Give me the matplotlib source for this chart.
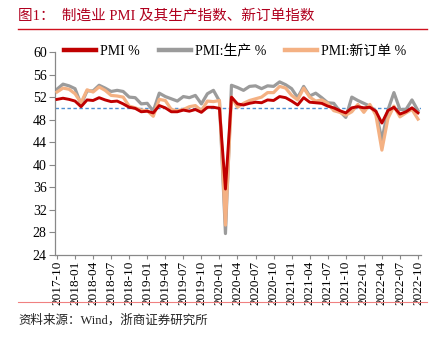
import matplotlib
matplotlib.use('Agg')
import matplotlib.pyplot as plt
from matplotlib.lines import Line2D

plt.rcParams['font.family'] = ['Liberation Serif', 'Noto Sans CJK SC']

# monthly data 2017-10 .. 2022-10
months = ['2017-10', '2017-11', '2017-12',
          '2018-01', '2018-02', '2018-03', '2018-04', '2018-05', '2018-06',
          '2018-07', '2018-08', '2018-09', '2018-10', '2018-11', '2018-12',
          '2019-01', '2019-02', '2019-03', '2019-04', '2019-05', '2019-06',
          '2019-07', '2019-08', '2019-09', '2019-10', '2019-11', '2019-12',
          '2020-01', '2020-02', '2020-03', '2020-04', '2020-05', '2020-06',
          '2020-07', '2020-08', '2020-09', '2020-10', '2020-11', '2020-12',
          '2021-01', '2021-02', '2021-03', '2021-04', '2021-05', '2021-06',
          '2021-07', '2021-08', '2021-09', '2021-10', '2021-11', '2021-12',
          '2022-01', '2022-02', '2022-03', '2022-04', '2022-05', '2022-06',
          '2022-07', '2022-08', '2022-09', '2022-10']

pmi = [51.6, 51.8, 51.6,
       51.3, 50.3, 51.5, 51.4, 51.9, 51.5, 51.2, 51.3, 50.8, 50.2, 50.0, 49.4,
       49.5, 49.2, 50.5, 50.1, 49.4, 49.4, 49.7, 49.5, 49.8, 49.3, 50.2, 50.2,
       50.0, 35.7, 52.0, 50.8, 50.6, 50.9, 51.1, 51.0, 51.5, 51.4, 52.1, 51.9,
       51.3, 50.6, 51.9, 51.1, 51.0, 50.9, 50.4, 50.1, 49.6, 49.2, 50.1, 50.3,
       50.1, 50.2, 49.5, 47.4, 49.6, 50.2, 49.0, 49.4, 50.1, 49.2]

production = [53.4, 54.3, 54.0,
              53.5, 50.7, 53.1, 53.1, 54.1, 53.6, 53.0, 53.2, 53.0, 52.0, 51.9, 50.8,
              50.9, 49.5, 52.7, 52.1, 51.7, 51.3, 52.1, 51.9, 52.3, 50.8, 52.6, 53.2,
              51.3, 27.8, 54.1, 53.7, 53.2, 53.9, 54.0, 53.5, 54.0, 53.9, 54.7, 54.2,
              53.5, 51.9, 53.9, 52.2, 52.7, 51.9, 51.0, 50.9, 49.5, 48.4, 52.0, 51.4,
              50.9, 50.4, 49.5, 44.4, 49.7, 52.8, 49.8, 49.8, 51.5, 49.6]

new_orders = [52.9, 53.6, 53.4,
              52.6, 51.0, 53.3, 52.9, 53.8, 53.2, 52.3, 52.2, 52.0, 50.4, 50.1, 49.7,
              49.6, 48.6, 51.6, 51.4, 49.8, 49.6, 49.8, 50.3, 50.5, 49.6, 51.3, 51.2,
              51.4, 29.3, 52.0, 50.2, 50.9, 51.4, 51.7, 52.0, 52.8, 52.8, 53.9, 53.6,
              52.3, 51.5, 53.6, 52.0, 51.3, 51.5, 50.9, 49.6, 49.3, 48.8, 49.4, 50.7,
              49.3, 50.7, 48.8, 42.6, 48.2, 50.4, 48.5, 49.2, 49.8, 48.1]

yticks = list(range(24, 61, 4))

RED = '#C00000'
GRAY = '#9B9B9B'
ORANGE = '#F4B183'

fig = plt.figure(figsize=(4.42, 3.38), dpi=100)
W, H = 442, 338
ax = fig.add_axes([55 / W, 1 - 255 / H, (421 - 55) / W, (255 - 52) / H])

x = list(range(len(months)))
ax.axhline(50, color='#4F8FD0', lw=1.0, ls=(0, (2.5, 1.8)), zorder=1)
ax.plot(x, production, color=GRAY, lw=2.3, zorder=2, solid_joinstyle='round')
ax.plot(x, new_orders, color=ORANGE, lw=2.3, zorder=3, solid_joinstyle='round')
ax.plot(x, pmi, color=RED, lw=2.1, zorder=4, solid_joinstyle='round')

ax.set_xlim(-0.33, 60.5)
ax.set_ylim(24, 60)
ax.set_yticks(yticks)
ax.set_yticklabels([str(v) for v in yticks], fontsize=10)
tick_pos = x[::3]
ax.set_xticks(tick_pos)
ax.set_xticklabels([months[i] for i in tick_pos], rotation=90, fontsize=9.5)

for s in ['top', 'right']:
    ax.spines[s].set_visible(False)
for s in ['left', 'bottom']:
    ax.spines[s].set_color('#888888')
    ax.spines[s].set_linewidth(0.9)
ax.tick_params(axis='y', length=4, width=0.8, color='#888888', pad=2)
ax.tick_params(axis='x', length=3, width=0.8, color='#888888', pad=1)

handles = [Line2D([], [], color=RED, lw=3.2),
           Line2D([], [], color=GRAY, lw=3.2),
           Line2D([], [], color=ORANGE, lw=3.2)]
labels = ['PMI %', 'PMI:生产 %', 'PMI:新订单 %']
fig.legend(handles, labels, loc='center left', bbox_to_anchor=(64 / W, 1 - 51 / H),
           ncol=3, frameon=False, fontsize=10, handlelength=2.3,
           handletextpad=0.3, columnspacing=1.35, borderaxespad=0, borderpad=0)

# title and frame lines
fig.text(18 / W, 1 - 16 / H, '图1：  制造业 PMI 及其生产指数、新订单指数',
         color='#B0001E', fontsize=10.5, va='center', ha='left')
fig.add_artist(Line2D([18 / W, 427 / W], [1 - 29 / H, 1 - 29 / H], color='#D0101E', lw=1.0))
fig.add_artist(Line2D([18 / W, 427 / W], [1 - 302 / H, 1 - 302 / H], color='#F08080', lw=0.8))
fig.text(18 / W, 1 - 320 / H, '资料来源：Wind，浙商证券研究所',
         color='#222222', fontsize=9, va='center', ha='left')

fig.savefig('out.png', dpi=100)
